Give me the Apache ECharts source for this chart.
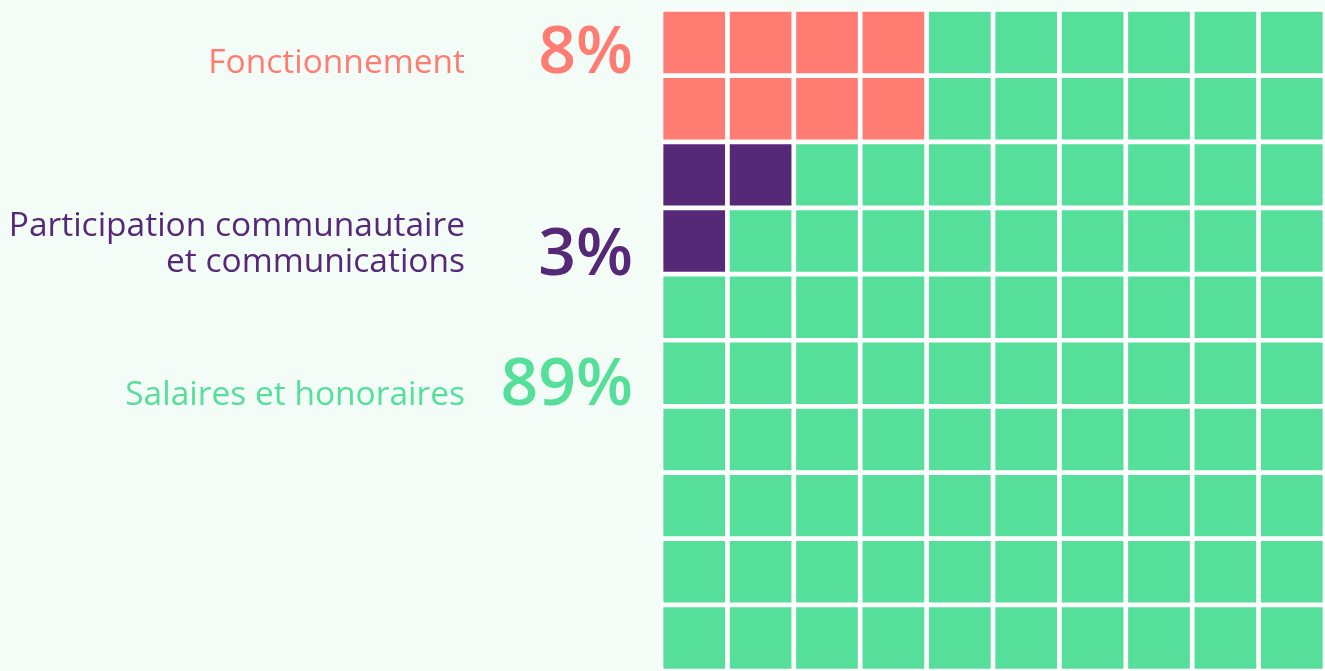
<!DOCTYPE html>
<html>
<head>
<meta charset="utf-8">
<script src="https://cdn.jsdelivr.net/npm/echarts@6/dist/echarts.min.js"></script>
<style>
  html, body { margin: 0; padding: 0; background: #f3fcf7; }
  #chart { width: 1325px; height: 671px; }
</style>
</head>
<body>
<div id="chart"></div>
<script>
// données du graphique gaufré
var categories = ['Fonctionnement', 'Participation communautaire\net communications', 'Salaires et honoraires']
var values = [8, 3, 89]
var pctLabels = ['8%', '3%', '89%']
var colors = ['#ff7c73', '#552977', '#55df9b']
var gridCells = ['0', '1', '2', '3', '4', '5', '6', '7', '8', '9']

// placement des cases : bandes de 2 rangées, remplies colonne par colonne
var cellIndex = []
for (var r = 0; r < 10; r++) {
  cellIndex.push([])
  for (var c = 0; c < 10; c++) cellIndex[r].push(categories.length - 1)
}
for (var i = 0; i < categories.length - 1; i++) {
  for (var k = 0; k < values[i]; k++) {
    cellIndex[i * 2 + (k % 2)][Math.floor(k / 2)] = i
  }
}
var cells = []
for (var r = 0; r < 10; r++) {
  for (var c = 0; c < 10; c++) cells.push([c, r, cellIndex[r][c]])
}

var myChart = echarts.init(document.getElementById('chart'))

// textes à gauche (libellés + pourcentages)
var labelBaselines = [[73], [236, 272], [405]]
var pctBaselines = [73, 275, 405]
var labelSize = 33.5
var pctSize = 66
var texts = []
categories.forEach(function (name, i) {
  name.split('\n').forEach(function (line, j) {
    texts.push({
      type: 'text',
      x: 465,
      y: labelBaselines[i][j] - labelSize * 0.29,
      style: {
        text: line,
        fill: colors[i],
        font: '400 ' + labelSize + 'px "Open Sans"',
        align: 'right',
        verticalAlign: 'middle'
      }
    })
  })
  texts.push({
    type: 'text',
    x: 633,
    y: pctBaselines[i] - pctSize * 0.29,
    style: {
      text: pctLabels[i],
      fill: colors[i],
      font: '600 ' + pctSize + 'px "Open Sans"',
      align: 'right',
      verticalAlign: 'middle'
    }
  })
})

myChart.setOption({
  backgroundColor: '#f3fcf7',
  animation: false,
  grid: {
    left: 661,
    top: 9.5,
    width: 670,
    height: 670,
    show: true,
    backgroundColor: '#ffffff',
    borderWidth: 0
  },
  xAxis: {
    type: 'category',
    data: gridCells,
    show: false
  },
  yAxis: {
    type: 'category',
    data: gridCells,
    inverse: true,
    show: false
  },
  graphic: texts,
  series: [{
    type: 'custom',
    data: cells,
    clip: false,
    renderItem: function (params, api) {
      var center = api.coord([api.value(0), api.value(1)])
      var size = api.size([1, 1])
      var gap = 2.35
      return {
        type: 'rect',
        shape: {
          x: center[0] - size[0] / 2 + gap,
          y: center[1] - size[1] / 2 + gap,
          width: size[0] - gap * 2,
          height: size[1] - gap * 2
        },
        style: { fill: colors[api.value(2)] }
      }
    }
  }]
})
</script>
</body>
</html>
